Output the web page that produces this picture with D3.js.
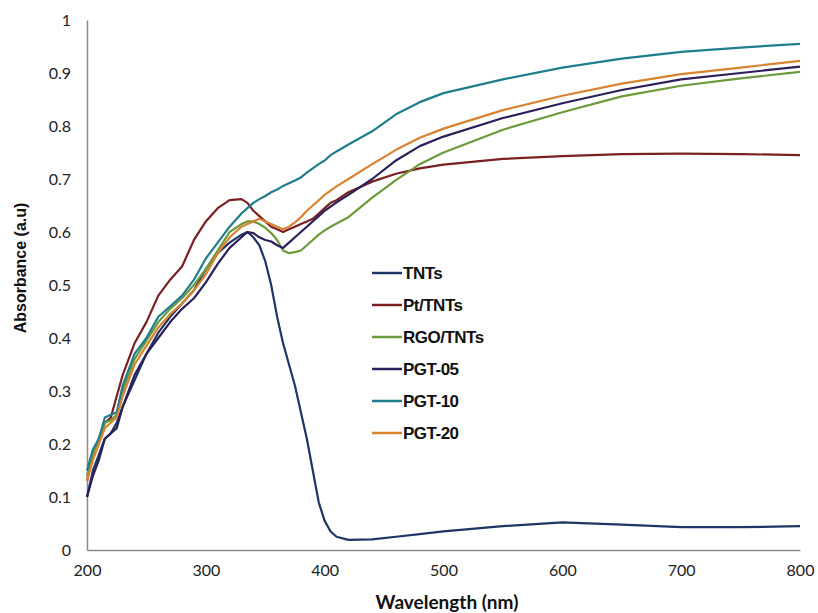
<!DOCTYPE html>
<html>
<head>
<meta charset="utf-8">
<script src="https://cdn.jsdelivr.net/npm/d3@7"></script>
<style>
  body { margin: 0; background: #fff; }
  svg { display: block; }
</style>
</head>
<body>
<div id="chart"></div>
<script>
// wavelengths (nm) shared by every series
const wavelengths = [200,205,210,215,220,225,230,240,250,260,270,280,290,300,310,320,330,335,340,345,350,355,360,365,370,375,380,385,390,395,400,405,410,420,440,460,480,500,550,600,650,700,750,800];

const tnts = [0.10,0.15,0.18,0.21,0.22,0.24,0.27,0.32,0.37,0.41,0.44,0.465,0.49,0.53,0.56,0.58,0.595,0.60,0.59,0.575,0.545,0.50,0.44,0.39,0.35,0.31,0.26,0.21,0.15,0.09,0.055,0.035,0.025,0.019,0.02,0.025,0.03,0.035,0.045,0.052,0.048,0.043,0.043,0.045];
const ptTnts = [0.13,0.18,0.21,0.24,0.25,0.29,0.33,0.39,0.43,0.48,0.51,0.535,0.585,0.62,0.645,0.66,0.662,0.655,0.64,0.63,0.62,0.61,0.605,0.60,0.605,0.61,0.615,0.62,0.625,0.635,0.645,0.655,0.66,0.675,0.695,0.71,0.72,0.727,0.738,0.743,0.747,0.748,0.747,0.745];
const rgoTnts = [0.14,0.18,0.21,0.24,0.245,0.255,0.30,0.36,0.395,0.43,0.455,0.475,0.50,0.53,0.565,0.60,0.615,0.62,0.62,0.615,0.608,0.598,0.585,0.565,0.56,0.562,0.565,0.575,0.585,0.595,0.603,0.61,0.616,0.628,0.665,0.698,0.728,0.75,0.793,0.826,0.856,0.876,0.89,0.902];
const pgt05 = [0.10,0.14,0.17,0.21,0.22,0.23,0.27,0.33,0.37,0.40,0.43,0.455,0.475,0.505,0.54,0.57,0.59,0.60,0.598,0.59,0.585,0.582,0.575,0.57,0.58,0.59,0.60,0.61,0.62,0.63,0.64,0.648,0.656,0.67,0.70,0.735,0.762,0.78,0.815,0.843,0.868,0.888,0.90,0.912];
const pgt10 = [0.15,0.19,0.21,0.25,0.255,0.26,0.31,0.37,0.40,0.44,0.46,0.48,0.51,0.55,0.58,0.61,0.635,0.645,0.655,0.662,0.668,0.675,0.68,0.687,0.692,0.697,0.703,0.712,0.72,0.728,0.735,0.745,0.752,0.765,0.79,0.822,0.845,0.862,0.888,0.91,0.927,0.94,0.948,0.955];
const pgt20 = [0.13,0.17,0.20,0.23,0.24,0.25,0.29,0.35,0.385,0.42,0.445,0.465,0.49,0.52,0.56,0.59,0.61,0.615,0.62,0.625,0.62,0.615,0.61,0.605,0.61,0.618,0.628,0.64,0.65,0.66,0.67,0.678,0.686,0.70,0.728,0.755,0.778,0.795,0.83,0.857,0.88,0.898,0.91,0.923];

const seriesNames = ["TNTs", "Pt/TNTs", "RGO/TNTs", "PGT-05", "PGT-10", "PGT-20"];
const seriesValues = [tnts, ptTnts, rgoTnts, pgt05, pgt10, pgt20];
const seriesColors = ["#1f3566", "#7a1f22", "#6b9a3a", "#2c1f5c", "#1f7d8c", "#d9822f"];

const xTicks = [200, 300, 400, 500, 600, 700, 800];
const yTicks = [0, 0.1, 0.2, 0.3, 0.4, 0.5, 0.6, 0.7, 0.8, 0.9, 1];

const width = 818, height = 613;
const margin = {left: 87, right: 18, top: 20, bottom: 63};

let svg = d3.select("#chart")
    .append("svg")
    .attr("width", width)
    .attr("height", height);

let xScale = d3.scaleLinear()
    .domain([200, 800])
    .range([margin.left, width - margin.right]);
let yScale = d3.scaleLinear()
    .domain([0, 1])
    .range([height - margin.bottom, margin.top]);

// axes (no tick marks, grey spine)
let xAxis = svg.append("g")
    .attr("transform", `translate(0, ${height - margin.bottom})`)
    .call(d3.axisBottom(xScale).tickValues(xTicks).tickSize(0).tickPadding(15).tickFormat(d3.format("d")));
let yAxis = svg.append("g")
    .attr("transform", `translate(${margin.left}, 0)`)
    .call(d3.axisLeft(yScale).tickValues(yTicks).tickSize(0).tickPadding(16).tickFormat(d => d === 0 || d === 1 ? d : d3.format(".1f")(d)));

[xAxis, yAxis].forEach(a => {
    a.select(".domain").attr("stroke", "#8a8a8a").attr("stroke-width", 1.5);
    a.selectAll("text")
        .attr("fill", "#222")
        .style("font-family", "Lato, 'Open Sans', sans-serif")
        .style("font-size", "16px");
});

// lines
const line = d3.line()
    .x((d, i) => xScale(wavelengths[i]))
    .y(d => yScale(d));

svg.selectAll("path.series")
    .data(seriesValues)
    .enter()
    .append("path")
    .attr("class", "series")
    .attr("d", line)
    .attr("fill", "none")
    .attr("stroke", (d, i) => seriesColors[i])
    .attr("stroke-width", 2.2)
    .attr("stroke-linejoin", "round");

// legend
const legendX = 372, legendY = 273, legendStep = 32;
let legend = svg.append("g");
seriesNames.forEach((name, i) => {
    legend.append("line")
        .attr("x1", legendX).attr("x2", legendX + 30)
        .attr("y1", legendY + i * legendStep).attr("y2", legendY + i * legendStep)
        .attr("stroke", seriesColors[i]).attr("stroke-width", 2.5);
    legend.append("text")
        .attr("x", legendX + 31)
        .attr("y", legendY + i * legendStep)
        .attr("dy", "0.35em")
        .style("font-family", "'Liberation Sans', Arial, sans-serif")
        .style("font-weight", "bold")
        .style("font-size", "17px")
        .style("letter-spacing", "-0.5px")
        .attr("fill", "#111")
        .text(name);
});

// axis titles
svg.append("text")
    .attr("x", 447)
    .attr("y", 609)
    .attr("text-anchor", "middle")
    .style("font-family", "Lato, 'Open Sans', sans-serif")
    .style("font-weight", "bold")
    .style("font-size", "19px")
    .attr("fill", "#111")
    .text("Wavelength (nm)");

svg.append("text")
    .attr("transform", "translate(26, 268) rotate(-90)")
    .attr("text-anchor", "middle")
    .style("font-family", "'Liberation Sans', Arial, sans-serif")
    .style("font-weight", "bold")
    .style("font-size", "16px")
    .attr("fill", "#111")
    .text("Absorbance (a.u)");
</script>
</body>
</html>
